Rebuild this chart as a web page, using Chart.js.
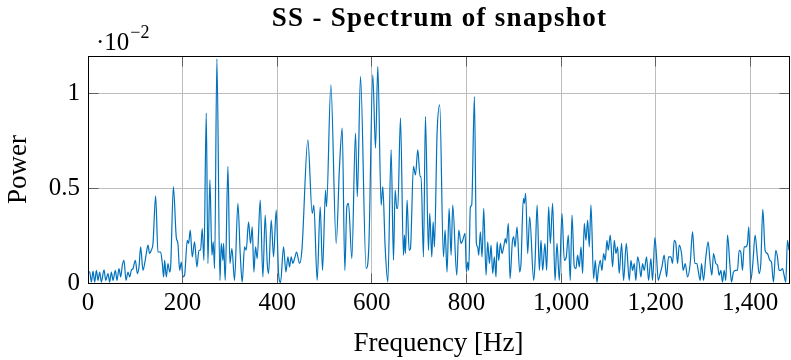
<!DOCTYPE html>
<html><head><meta charset="utf-8">
<script src="https://cdn.jsdelivr.net/npm/chart.js@4.4.1/dist/chart.umd.min.js"></script>
<style>
html,body{margin:0;padding:0;background:#fff;}
#wrap{position:relative;width:791px;height:360px;overflow:hidden;}
#c{position:absolute;left:0;top:0;}
#title{position:absolute;left:88px;width:701px;top:4px;text-align:center;font:bold 27px/27px 'Liberation Serif',serif;letter-spacing:1.3px;padding-left:1px;color:#000;white-space:nowrap;}
#mult{position:absolute;left:96px;top:29px;font:25px/25px 'Liberation Serif',serif;color:#000;white-space:nowrap;}
#mult span{font-size:18px;position:relative;top:-12px;margin-left:1px;}
</style></head>
<body>
<div id="wrap">
<canvas id="c" width="791" height="360"></canvas>
<div id="title">SS - Spectrum of snapshot</div>
<div id="mult">·10<span>−2</span></div>
</div>
<script>
// Frequency (Hz) and power (×10^-2), peaks and troughs
const freqHz = [0,3.6,7.1,10.6,14.2,17.7,21.2,24.7,28.2,33.9,37.4,42.3,45.8,49.4,52.9,57.8,61.3,65.6,69.1,72.6,76.1,80.3,84.6,88.1,91.6,95.1,100.1,104.3,107.8,111.3,116.2,119.8,123.3,126.8,130.3,133.8,137.4,143,147.9,153.6,157.1,159.9,162,165.5,169.1,172.6,174.7,180.5,186.7,190.1,
193.7,197.2,200.7,204.2,209.9,212.7,216.2,220.4,225.3,230.3,234.5,238,241.5,245.1,250,253.5,257.7,262,264.8,267.6,272.5,278.9,281.7,285.2,286.6,290.1,295.8,300,304.2,309.8,316.9,321.8,326,331,334.5,339.4,343.6,347.2,350.7,354.2,357.7,364.1,369.7,374.6,378.9,381.7,387.4,392.3,397.9,402.9,407.1,413.4,418.4,422.6,426.1,429.6,433.1,436.7,440.9,447.2,452.2,
464.8,474,477.5,484.5,490.9,495.8,502.2,504.3,513.4,524.7,531.7,537.4,543,547.2,550.7,557.8,565.5,569.4,576.1,588,593.7,602.1,607.8,612.7,619.7,623.2,628.2,633.8,640.9,645.8,649.3,652.8,654.9,660.6,666.9,669,671.1,674.6,678.9,681.7,688,692.3,697.2,702.1,704.2,709.2,713.4,719.7,722.5,726.8,729.6,732.4,738,743.6,751.4,754.9,759.1,763.4,767.6,771.1,779.6,783.8,788.7,792.2,797.2,800,802.8,804.9,808.4,811.2,816.9,821.1,823.9,826,829.5,833.1,836.6,841.5,845,848.6,852.1,855.6,859.1,862.6,864.8,868.3,871.8,875.3,878.8,882.4,884.5,888.7,892.2,897.1,900,902.8,907,912.6,915.4,920.4,922.5,925.3,929.5,933.8,942.2,945,949.5,954.2,957.7,961.2,966.1,969.7,973.9,977.4,982.3,987.3,991.5,996.4,
1002,1007,1011.2,1015.4,1019.6,1023.2,1028.1,1031.6,1035.1,1038.7,1042.2,1045.7,1049.2,1052.7,1056.3,1059.8,1063.3,1068.9,1072.5,1076,1078.8,1083,1086.5,1090.1,1093.6,1097.1,1099.9,1104.1,1109.1,1112.6,1116.1,1119.6,1123.1,1128.1,1132.3,1138,1144.3,1147.8,1151.3,1154.8,1158.3,1161.9,1165.4,1168.9,1172.4,1175.9,1180.9,1185.1,1190,1193.5,1198.5,1202,1205.5,1209.7,1213.3,1218.2,1223.1,1227.3,1232.3,1235.8,1239.3,1242.8,1246.4,1249.9,1254.8,1258.3,1262.6,1267.5,1273.1,1278.1,1283,1287.2,1290,1294.2,1297.1,1301.3,1306.2,1311.1,1315.4,1318.9,1322.4,1327.3,1330.9,1334.4,1337.9,1341.4,1344.9,1348.4,1352,1356.9,1360.4,1364.6,1369.6,1373.1,1376.6,1380.1,1383.6,1387.2,1390.7,1394.2,1397,1401.3,1405.5,1410.4,1415.3,1418.9,1422.4,1426.6,1431.5,1436.5,1441.4,1444.9,1449.1,1454.1,1457.6,1461.1,1464.6,1468.2,1471.7,1475.2,1478.7,1482];
const powerE2 = [0.06,0.058,0.005,0.063,0.005,0.067,0.014,0.058,0.005,0.07,0.014,0.05,0.005,0.058,0.014,0.067,0.014,0.076,0.032,0.094,0.12,0.014,0.058,0.032,0.067,0.076,0.12,0.05,0.085,0.191,0.067,0.103,0.156,0.2,0.156,0.173,0.209,0.461,0.164,0.164,0.103,0.032,0.12,0.032,0.103,0.058,0.085,0.509,0.24,0.209,
0.067,0.111,0.032,0.041,0.226,0.209,0.279,0.138,0.217,0.085,0.173,0.173,0.288,0.12,0.898,0.103,0.545,0.147,0.217,0.076,1.185,0.014,0.209,0.12,0.209,0.014,0.616,0.103,0.182,0.014,0.421,0.156,0.005,0.191,0.173,0.323,0.209,0.297,0.058,0.191,0.129,0.438,0.032,0.359,0.103,0.05,0.332,0.138,0.385,0.05,0.003,0.191,0.058,0.138,0.085,0.138,0.103,0.129,0.164,0.103,0.173,
0.757,0.368,0.41,0.014,0.403,0.067,0.491,0.403,1.048,0.209,0.616,0.819,0.067,0.403,0.421,0.129,0.792,0.456,1.092,0.076,0.191,1.101,0.713,1.145,0.412,0.509,0.191,0.005,0.704,0.12,0.491,0.394,0.394,0.872,0.147,0.253,0.156,0.438,0.173,0.182,0.616,0.571,0.704,0.562,0.562,0.138,0.88,0.173,0.368,0.138,0.323,0.191,0.792,0.942,0.138,0.279,0.058,0.394,0.147,0.412,0.041,0.279,0.209,0.226,0.262,0.058,0.111,0.067,0.403,0.412,0.986,0.209,0.191,0.147,0.27,0.138,0.394,0.041,0.217,0.103,0.2,0.05,0.138,0.032,0.217,0.12,0.209,0.156,0.191,0.235,0.209,0.315,0.023,0.217,0.244,0.191,0.297,0.058,0.103,0.447,0.421,0.474,0.156,0.35,0.014,0.103,0.412,0.067,0.226,0.067,0.209,0.067,0.403,0.209,0.421,0.014,0.209,0.014,
0.368,0.12,0.138,0.253,0.014,0.359,0.085,0.076,0.147,0.085,0.191,0.05,0.315,0.226,0.332,0.191,0.412,0.023,0.12,0.003,0.067,0.12,0.067,0.156,0.12,0.226,0.173,0.253,0.085,0.226,0.156,0.191,0.05,0.209,0.014,0.209,0.014,0.12,0.067,0.103,0.014,0.138,0.103,0.032,0.103,0.067,0.138,0.014,0.129,0.014,0.24,0.138,0.014,0.05,0.085,0.147,0.032,0.138,0.138,0.103,0.226,0.209,0.103,0.2,0.156,0.067,0.103,0.032,0.103,0.27,0.103,0.103,0.067,0.014,0.103,0.014,0.138,0.217,0.103,0.041,0.156,0.103,0.094,0.04,0.067,0.005,0.067,0.014,0.253,0.103,0.005,0.058,0.067,0.067,0.173,0.164,0.067,0.191,0.191,0.209,0.297,0.014,0.103,0.253,0.129,0.05,0.103,0.389,0.173,0.156,0.12,0.111,0.005,0.173,0.138,0.067,0.067,0.076,0.041,0.005,0.226,0.173];
const xTickStep = 200;
const yTickStep = 0.5;
const xMax = 1482;
const yMax = 1.2;

const frame = {
  id: 'frame',
  afterDatasetsDraw(chart) {
    const {ctx, chartArea: a, scales: {x, y}} = chart;
    const L = Math.floor(a.left) + 0.5, R = Math.floor(a.right) + 0.5, T = Math.floor(a.top) + 0.5, B = Math.floor(a.bottom) + 0.5;
    ctx.save();
    ctx.strokeStyle = '#606060'; ctx.lineWidth = 1;
    ctx.beginPath();
    x.ticks.forEach(t => {
      const p = Math.floor(x.getPixelForValue(t.value)) + 0.5;
      ctx.moveTo(p, B); ctx.lineTo(p, B - 10);
      ctx.moveTo(p, T); ctx.lineTo(p, T + 10);
    });
    y.ticks.forEach(t => {
      const p = Math.floor(y.getPixelForValue(t.value)) + 0.5;
      ctx.moveTo(L, p); ctx.lineTo(L + 10, p);
      ctx.moveTo(R, p); ctx.lineTo(R - 10, p);
    });
    ctx.stroke();
    ctx.strokeStyle = '#000';
    ctx.strokeRect(L, T, R - L, B - T);
    ctx.restore();
  }
};

new Chart(document.getElementById('c'), {
  type: 'line',
  data: {
    datasets: [{
      data: freqHz.map((f, i) => ({x: f, y: powerE2[i]})),
      borderColor: '#0072BD',
      borderWidth: 1.2,
      pointRadius: 0,
      fill: false,
      cubicInterpolationMode: 'monotone'
    }]
  },
  plugins: [frame],
  options: {
    responsive: false,
    devicePixelRatio: 1,
    animation: false,
    locale: 'en-US',
    layout: {padding: {left: 0, top: 56, right: 2, bottom: 0}},
    plugins: {legend: {display: false}, title: {display: false}, tooltip: {enabled: false}},
    scales: {
      x: {
        type: 'linear', min: 0, max: xMax,
        afterFit: s => { s.height = 77; },
        grid: {color: '#bdbdbd', lineWidth: 1, drawTicks: false},
        border: {display: false},
        ticks: {stepSize: xTickStep, includeBounds: false, autoSkip: false, maxRotation: 0, padding: 5,
          color: '#000', font: {family: "'Liberation Serif', serif", size: 25}},
        title: {display: true, text: 'Frequency [Hz]', color: '#000', padding: {top: 0, bottom: 0},
          font: {family: "'Liberation Serif', serif", size: 27}}
      },
      y: {
        min: 0, max: yMax,
        afterFit: s => { s.width = 88; },
        grid: {color: '#bdbdbd', lineWidth: 1, drawTicks: false},
        border: {display: false},
        ticks: {stepSize: yTickStep, includeBounds: false, padding: 8,
          callback: v => String(v),
          color: '#000', font: {family: "'Liberation Serif', serif", size: 25}},
        title: {display: true, text: 'Power', color: '#000', padding: {top: 3, bottom: 0},
          font: {family: "'Liberation Serif', serif", size: 27}}
      }
    }
  }
});
</script>
</body></html>
